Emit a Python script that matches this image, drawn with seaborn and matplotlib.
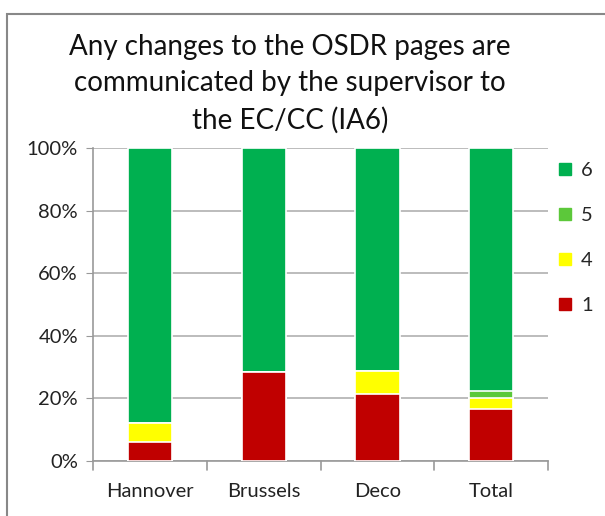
import numpy as np
import pandas as pd
import seaborn as sns
import matplotlib.pyplot as plt
from matplotlib.lines import Line2D
from matplotlib.patches import Rectangle

categories = ["Hannover", "Brussels", "Deco", "Total"]
levels = ["1", "4", "5", "6"]
share_1 = [5.9, 28.3, 21.4, 16.7]
share_4 = [6.2, 0.0, 7.4, 3.3]
share_5 = [0.0, 0.0, 0.0, 2.2]
share_6 = [87.9, 71.7, 71.2, 77.8]
colors = {"1": "#C00000", "4": "#FFFF00", "5": "#5CC83A", "6": "#00B050"}

df = pd.DataFrame({"cat": categories, "1": share_1, "4": share_4,
                   "5": share_5, "6": share_6})
cum = df[levels].cumsum(axis=1)

sns.set_style("white")
plt.rcParams["font.family"] = ["Lato", "DejaVu Sans"]

fig = plt.figure(figsize=(6.05, 5.16), dpi=100)
ax = fig.add_axes([0.154, 0.107, 0.752, 0.606])

# draw stacks top-down so lower segments sit over the cumulative bars
for lev in reversed(levels):
    sns.barplot(x=df["cat"], y=cum[lev], color=colors[lev], width=0.39,
                saturation=1, edgecolor="white", linewidth=1.2, ax=ax, zorder=3)

ax.set_ylim(0, 100)
ax.set_xlim(-0.5, 3.5)
ax.set_yticks(np.arange(0, 101, 20))
ax.set_yticklabels([f"{v}%" for v in range(0, 101, 20)], fontsize=14.5, color="#222222")
ax.yaxis.grid(True, color="#b0b0b0", linewidth=1.2, zorder=0)
ax.set_axisbelow(True)
ax.set_xlabel("")
ax.set_ylabel("")
ax.tick_params(axis="x", labelsize=14.5, colors="#222222", length=0, pad=16)
ax.tick_params(axis="y", length=5, color="#999999", left=True, pad=6)

for s in ["top", "right"]:
    ax.spines[s].set_visible(False)
for s in ["left", "bottom"]:
    ax.spines[s].set_color("#999999")
    ax.spines[s].set_linewidth(1.2)

# category boundary ticks on the x axis
for xb in np.arange(-0.5, 3.6, 1.0):
    ax.plot([xb, xb], [0, -3], color="#999999", lw=1.2, clip_on=False)

fig.text(290 / 605, 1 - 84 / 516,
         "Any changes to the OSDR pages are\ncommunicated by the supervisor to\nthe EC/CC (IA6)",
         fontsize=20, color="#111111", linespacing=1.5, ha="center", va="center")

handles = [Line2D([0], [0], marker="s", linestyle="", markersize=8,
                  markerfacecolor=colors[l], markeredgecolor=colors[l], label=l)
           for l in ["6", "5", "4", "1"]]
leg = fig.legend(handles=handles, loc="upper left", bbox_to_anchor=(555 / 605, 1 - 162 / 516),
                 frameon=False, fontsize=14.5, labelspacing=1.38, handletextpad=0.3,
                 handlelength=1.0, borderpad=0, borderaxespad=0)

fig.patches.append(Rectangle((7 / 605, -0.05), 1.2, 1 - 14 / 516 + 0.05,
                             transform=fig.transFigure, fill=False,
                             edgecolor="#888888", linewidth=1.5))

fig.savefig("out.png", dpi=100)
